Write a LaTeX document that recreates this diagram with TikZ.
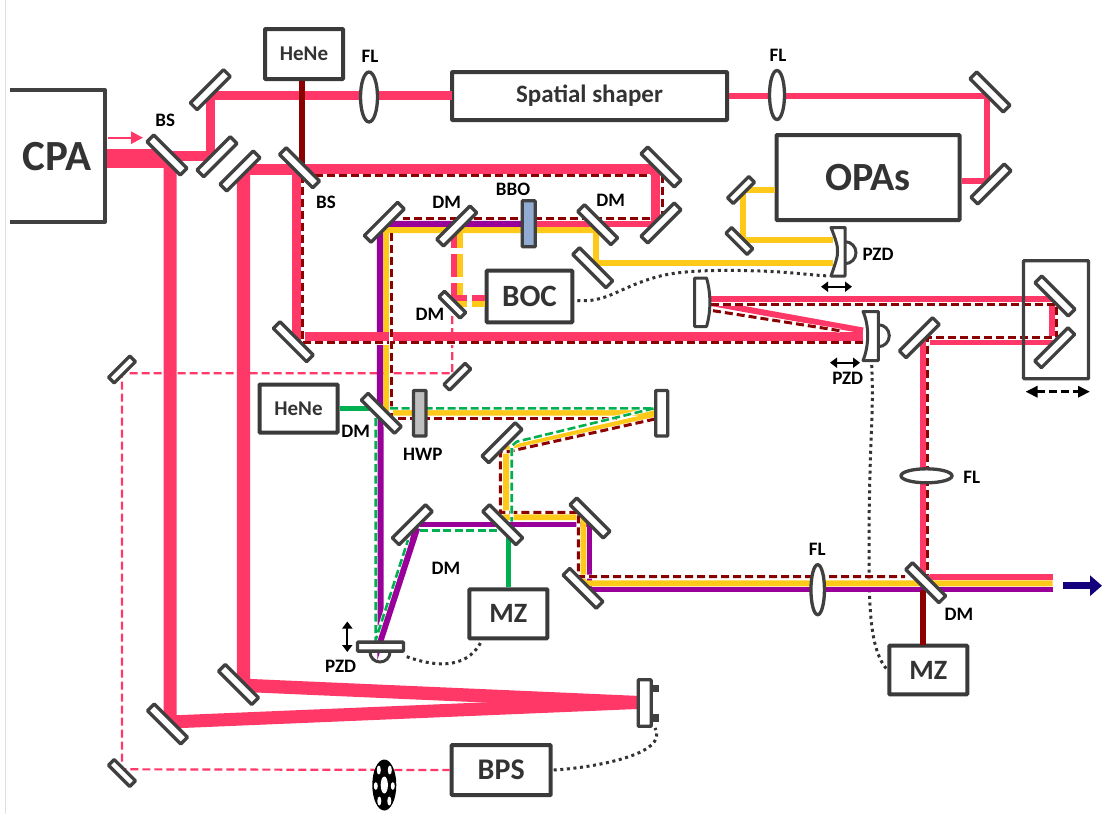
\documentclass[tikz,border=0pt]{standalone}
\usepackage{fontspec}
\setmainfont{Carlito}
\usetikzlibrary{arrows.meta,shapes.geometric}
\definecolor{pnk}{HTML}{FF3868}
\definecolor{yel}{HTML}{FFC91A}
\definecolor{pur}{HTML}{990099}
\definecolor{dred}{HTML}{8B0000}
\definecolor{grn}{HTML}{00B050}
\definecolor{gr}{HTML}{404040}
\definecolor{txtg}{HTML}{333333}
\definecolor{navy2}{HTML}{13007C}
\definecolor{bbo}{HTML}{92ABD2}
\definecolor{hwp}{HTML}{BFBFBF}
\newcommand{\fs}[1]{\fontsize{#1}{#1}\selectfont\bfseries}
\tikzset{
  x=1pt,y=-1pt,
  mirror/.style={draw=gr,fill=white,line width=3.3,rectangle,inner sep=0,minimum width=47,minimum height=9.5,rounded corners=0.8},
  smirror/.style={mirror,minimum width=30,minimum height=8},
  optic/.style={draw=gr,line width=3.3,rectangle,inner sep=0,rounded corners=0.8},
  lens/.style={draw=gr,fill=white,line width=3.3,ellipse,inner sep=0},
  box/.style={draw=gr!90!black,fill=white,line width=4,rectangle,inner sep=0,rounded corners=0.8,text=txtg},
  lab/.style={font=\fs{19},text=black,inner sep=0},
  beam/.style={line width=#1,line join=miter,line cap=butt},
  redash/.style={preaction={draw=white,line width=4,solid},draw=dred,line width=3,dash pattern=on 8 off 4},
  grdash/.style={preaction={draw=white,line width=3.8,solid},draw=grn,line width=2.6,dash pattern=on 8 off 3.5},
  thinp/.style={draw=pnk,line width=2.2,dash pattern=on 8 off 4},
  dots/.style={draw=txtg,line width=3,dash pattern=on 3 off 3.6},
  arr/.style={draw=black,line width=2,{Triangle[length=7,width=10]}-{Triangle[length=7,width=10]}},
}
\begin{document}
\begin{tikzpicture}
\path[use as bounding box,fill=white] (0,0) rectangle (1102,814);
\draw[draw=black!12,line width=0.8] (5.5,0) -- (5.5,814);

% boxes first so that names exist
\node[box,minimum width=78,minimum height=50,font=\fs{21}] (heneA) at (304,54) {HeNe};
\node[box,minimum width=78,minimum height=48,font=\fs{21}] (heneB) at (298.5,408.5) {HeNe};
\node[box,minimum width=275,minimum height=48,font=\fs{25}] (shaper) at (589.5,96) {Spatial shaper};
\node[box,minimum width=183,minimum height=85,font=\fs{40}] (opas) at (868,177.5) {OPAs};
\node[box,minimum width=85.6,minimum height=51.6,font=\fs{31}] (boc) at (529.5,296.5) {BOC};
\node[box,minimum width=78,minimum height=49,font=\fs{28}] (mzA) at (508.3,613.8) {MZ};
\node[box,minimum width=78,minimum height=48.6,font=\fs{28}] (mzB) at (928.3,670) {MZ};
\node[box,minimum width=99,minimum height=50,font=\fs{30}] (bps) at (501.2,770) {BPS};

% dotted control cables
\draw[dots] (boc.east)++(3,4) .. controls (605,303) and (620,288) .. (650,279) .. controls (670,272) and (700,269) .. (760,271) .. controls (790,272) and (810,275) .. (829,276);
\draw[dots] (871.7,365) .. controls (874,420) and (869,440) .. (869,550) .. controls (869,610) and (870,650) .. (mzB.west);
\draw[dots] (406.7,656.7) .. controls (430,665) and (465,672) .. (481,642);
\draw[dots] (bps.east)++(1,0) .. controls (590,768) and (670,755) .. (655,728);

% thin pink path
\draw[thinp] (452.3,316) -- (452.3,373.3) -- (122,373.3) -- (122,769.3) -- (bps.west);

% chopper wheel
\node[ellipse,fill=black,minimum width=24,minimum height=51,inner sep=0] (wheel) at (384.3,785) {};
\foreach \dx/\dy/\rx/\ry in {0/0/3.6/8.5, -5.5/-15/2/4.5, 5.5/-15/2/4.5, -8.5/1/2/3.8, 8.5/1/2/3.8, -5/16/2/4.5, 5/16/2/4.5}
  \fill[white] (384.3+\dx,785+\dy) ellipse[x radius=\rx,y radius=\ry];

% small curved-mirror actuators
\draw[gr,line width=3] (845,241.7) arc[start angle=90,end angle=-90,radius=11pt];
\draw[gr,line width=3] (878.3,324.7) arc[start angle=90,end angle=-90,radius=11pt];
\draw[gr,line width=3] (370,652) arc[start angle=180,end angle=360,radius=10pt];

% purple and yellow beams
\draw[pur,beam=6.5] (521,224) -- (380,224) -- (380.5,640) -- (417,528);
\draw[pur,beam=5.5] (420,524.3) -- (589.3,524.3) -- (589.3,589.7) -- (1052.7,589.7);
\draw[yel,beam=6] (597,230) -- (386.3,230) -- (386.3,412.7) -- (654,412.7) -- (654,415.5) -- (506,449.5) -- (506,517) -- (583.3,517) -- (583.3,583.3) -- (1052.7,583.3);
\draw[yel,beam=6] (592,230) -- (595.7,230) -- (595.7,263) -- (833,263);
\draw[yel,beam=6] (opas.west |- 0,190) -- (743,190) -- (743,240) -- (833,240);
\draw[yel,beam=6,dash pattern=on 15 off 6 on 23 off 6 on 28 off 5 on 20] (460,233) -- (460,304.3) -- (boc.west |- 0,304.3);
\draw[pnk,beam=5.8,dash pattern=on 15 off 6 on 23 off 6 on 28 off 5 on 20] (453.7,233) -- (453.7,297.7) -- (boc.west |- 0,297.7);

% green
\draw[grn,beam=5.5] (heneB.east) -- ++(36,0);
\draw[grn,beam=5.5] (mzA.north) -- ++(0,-55);

% pink beams
\draw[pnk,beam=19] (105,158) -- (165,158);
\draw[pnk,beam=13] (170,158) -- (170,722) -- (637,702.5);
\draw[pnk,beam=13.3] (243.5,170) -- (243.5,685.3) -- (637,702.5);
\draw[pnk,beam=10] (170,155.5) -- (210.5,155.5);
\draw[pnk,beam=9.5] (210.5,157) -- (210.5,95.5) -- (452,95.5);
\draw[pnk,beam=6] (shaper.east) -- (987,96) -- (987,181) -- (opas.east |- 0,181);
\draw[pnk,beam=11] (243,169.5) -- (656,169.5) -- (656,224);
\draw[pnk,beam=6] (659,224) -- (536,224);
\draw[pnk,beam=11] (297,170) -- (297,336.7);
\draw[pnk,beam=10] (292,336.7) -- (863,336.7);
\draw[pnk,beam=6] (711,303) -- (863,330.5);
\draw[pnk,beam=6.3] (711,299.3) -- (1051.7,299.3) -- (1051.7,341.7) -- (923.3,341.7) -- (923.3,576.7) -- (1052.7,576.7);

% dark red
\draw[dred,beam=6] (heneA.south -| 302,0) -- (302,165);
\draw[dred,beam=6] (923.3,590) -- (923.3,645);

% dashed beams
\draw[redash] (302.7,175) -- (302.7,342.7) -- (863,342.7);
\draw[redash] (302.7,175.7) -- (650,175.7);
\draw[redash] (662.3,175) -- (662.3,218);
\draw[redash] (650,218.3) -- (403,218.3);
\draw[redash] (391.3,233) -- (391.3,418) -- (617,418);
\draw[redash] (655,419) -- (508,451.7) -- (500.3,451.7) -- (500.3,512.3) -- (578.3,512.3) -- (578.3,576.7) -- (905,576.7);
\draw[redash] (711,304.3) -- (1056.7,304.3) -- (1056.7,337.7) -- (927.7,337.7) -- (927.7,575);
\draw[redash] (713,310.7) -- (840,330.7);
\draw[grdash] (390,408.3) -- (654,408.3) -- (516.7,441.7) -- (511.7,446) -- (511.7,521.7);
\draw[grdash] (375.7,418) -- (375.7,640) -- (408,540);
\draw[grdash] (420,530.7) -- (500,530.7);

% lenses
\node[lens,minimum width=17,minimum height=50] (flA) at (369,97) {};
\node[lens,minimum width=15,minimum height=49] (flB) at (777,95) {};
\node[lens,minimum width=51,minimum height=14] (flC) at (926.5,475.8) {};
\node[lens,minimum width=13.5,minimum height=50] (flD) at (817.7,589.7) {};

% mirrors
\node[mirror,rotate=-45] (bsA) at (167,155) {};
\node[mirror,rotate=45] (mA) at (210.3,89.7) {};
\node[mirror,rotate=45] (mB) at (217,156.7) {};
\node[mirror,rotate=45] (mC) at (240,171) {};
\node[mirror,rotate=-45] (bsB) at (299.5,167.7) {};
\node[mirror,rotate=-45] (mD) at (661,167) {};
\node[mirror,rotate=45] (mE) at (661,223) {};
\node[mirror,rotate=45] (mF) at (384.3,222.3) {};
\node[mirror,rotate=45] (dmA) at (456.7,226) {};
\node[mirror,rotate=-45] (dmB) at (597.7,224.7) {};
\node[mirror,rotate=-45] (mG) at (592.7,267.7) {};
\node[mirror,rotate=-45] (mH) at (293.3,341.7) {};
\node[smirror,rotate=-45] (dmC) at (452.3,304.7) {};
\node[smirror,rotate=45] (mI) at (457.3,376.7) {};
\node[smirror,rotate=45] (mJ) at (122,369.5) {};
\node[smirror,rotate=-45] (mK) at (122,773) {};
\node[mirror,rotate=-45] (dmD) at (381.3,413.3) {};
\node[mirror,rotate=45] (mL) at (502,442.7) {};
\node[mirror,rotate=-45] (bsC) at (502.7,524.7) {};
\node[mirror,rotate=45] (dmE) at (412.3,524.7) {};
\node[mirror,rotate=-45] (mM) at (590,518) {};
\node[mirror,rotate=-45] (mN) at (583,588.3) {};
\node[mirror,rotate=-45] (dmF) at (925.7,582.7) {};
\node[mirror,rotate=-45] (mO) at (238.5,684.5) {};
\node[mirror,rotate=-45] (mP) at (167.5,724) {};
\node[mirror,rotate=-45] (mQ) at (990,92) {};
\node[mirror,rotate=45] (mR) at (991,184) {};
\node[smirror,rotate=45] (mS) at (741,190) {};
\node[smirror,rotate=-45] (mT) at (739.3,241) {};
\node[mirror,rotate=45] (mU) at (919.3,337.7) {};
\node[mirror,rotate=-45] (mV) at (1055,296) {};
\node[mirror,rotate=45] (mW) at (1054.7,347.7) {};
\node[mirror,minimum width=46,minimum height=9] (pzdC) at (380.5,646.6) {};

% plates
\node[optic,fill=bbo,minimum width=13,minimum height=46] (bboP) at (528.7,223.8) {};
\node[optic,fill=hwp,minimum width=12.5,minimum height=45.5] (hwpP) at (419.8,413.2) {};
\node[optic,fill=white,minimum width=12,minimum height=45.5] (mX) at (661.7,413.3) {};
\node[optic,fill=white,minimum width=13,minimum height=46.5] (mY) at (644.7,703) {};
\fill[gr] (652.7,685) rectangle (659,692.3);
\fill[gr] (652.7,714) rectangle (659,721.7);

% curved mirrors
\draw[gr,fill=white,line width=3,line join=round] (831,227.5) -- (845,227.5) -- (845,276) -- (831,276) .. controls (836,262) and (838,255) .. (837.5,251.7) .. controls (838,247) and (836,240) .. (831,227.5) -- cycle;
\draw[gr,fill=white,line width=3,line join=round] (863,311.5) -- (878.3,311.5) -- (878.3,360.5) -- (863,360.5) .. controls (869,346) and (869.5,326) .. (863,311.5) -- cycle;
\draw[gr,fill=white,line width=3,line join=round] (694.5,278) -- (706.5,278) .. controls (711,293) and (711,312) .. (706.5,326.5) -- (694.5,326.5) -- cycle;

% delay stage
\node[optic,minimum width=65,minimum height=118] (stage) at (1056,319.7) {};

% CPA box
\draw[gr,line width=4,line cap=butt,line join=round] (10,90) -- (105,90) -- (105,222) -- (10,222);
\node[font=\fs{43},text=txtg,inner sep=0] (cpa) at (57,157) {CPA};

% arrows
\draw[pnk,line width=2.4,-{Triangle[length=12,width=12]}] (108,137.7) -- (143,137.7);
\draw[arr] (821,286.7) -- (852,286.7);
\draw[arr] (830,362.7) -- (860,362.7);
\draw[arr] (347.3,621.5) -- (347.3,652);
\draw[draw=black,line width=3,dash pattern=on 8 off 4,{Triangle[length=12,width=11]}-{Triangle[length=12,width=11]}] (1025.5,391.7) -- (1090,391.7);
\draw[navy2,line width=7,-{Triangle[length=12,width=20]}] (1063,585.7) -- (1102,585.7);

% labels
\node[lab] (lBSa) at (165.3,120) {BS};
\node[lab] (lBSb) at (326,202.5) {BS};
\node[lab] (lFLa) at (370,56) {FL};
\node[lab] (lFLb) at (778,55) {FL};
\node[lab] (lFLc) at (971.7,477.7) {FL};
\node[lab] (lFLd) at (817.3,549) {FL};
\node[lab] (lBBO) at (513,189) {BBO};
\node[lab] (lDMa) at (446.7,202.3) {DM};
\node[lab] (lDMb) at (610.7,200) {DM};
\node[lab] (lDMc) at (430,314.3) {DM};
\node[lab] (lDMd) at (355.7,431.7) {DM};
\node[lab] (lDMe) at (446,568) {DM};
\node[lab] (lDMf) at (959,614.3) {DM};
\node[lab] (lHWP) at (422.7,454) {HWP};
\node[lab] (lPa) at (878,254.3) {PZD};
\node[lab] (lPb) at (847.7,378.3) {PZD};
\node[lab] (lPc) at (340.7,666.7) {PZD};
\end{tikzpicture}
\end{document}
